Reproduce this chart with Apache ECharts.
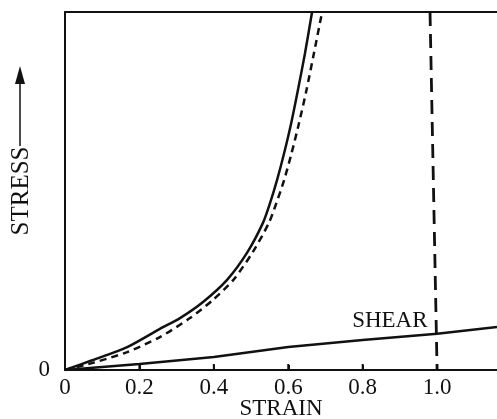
<!DOCTYPE html>
<html>
<head>
<meta charset="utf-8">
<script src="https://cdn.jsdelivr.net/npm/echarts@6/dist/echarts.min.js"></script>
<style>html,body{margin:0;padding:0;background:#fff}#c{width:497px;height:419px}</style>
</head>
<body>
<div id="c"></div>
<script>
// Solid curve
var strainSolid = [0, 0.075, 0.167, 0.255, 0.309, 0.371, 0.435, 0.489, 0.532, 0.551, 0.570, 0.589, 0.608, 0.626, 0.645, 0.664];
var stressSolid = [0, 2.8, 6.4, 11.5, 14.5, 19.0, 25.1, 32.7, 41.1, 46.6, 53.1, 60.6, 69.0, 78.2, 88.5, 100];
// Dashed curve
var strainDashed = [0, 0.075, 0.167, 0.255, 0.336, 0.398, 0.452, 0.505, 0.548, 0.568, 0.589, 0.609, 0.629, 0.649, 0.669, 0.691];
var stressDashed = [0, 2.0, 5.0, 9.2, 14.5, 19.6, 25.1, 33.0, 41.1, 46.6, 53.1, 60.6, 69.0, 78.2, 88.5, 100];
// Near-vertical dashed line
var strainVert = [0.981, 1.0];
var stressVert = [100, 0];
// Shear line
var strainShear = [0, 0.2, 0.4, 0.6, 0.8, 1.0, 1.161];
var stressShear = [0, 1.7, 3.6, 6.4, 8.4, 10.1, 12.0];
// Axis labels / ticks
var xTicks = [0, 0.2, 0.4, 0.6, 0.8, 1.0];
var shearLabelPos = [0.873, 13.7];

function zip(a, b) { return a.map(function (v, i) { return [v, b[i]]; }); }

var FONT = '"Liberation Serif", "DejaVu Serif", serif';
var INK = '#111';
var FS = 23;

var chart = echarts.init(document.getElementById('c'), null, { renderer: 'canvas' });
chart.setOption({
  animation: false,
  backgroundColor: '#fff',
  grid: { left: 65, right: 0, top: 12, bottom: 49, containLabel: false, outerBoundsMode: 'none' },
  xAxis: [{
    type: 'value', min: 0, max: 1.161, interval: 0.2,
    name: 'STRAIN', nameLocation: 'middle', nameGap: 27, nameMoveOverlap: false,
    nameTextStyle: { fontFamily: FONT, fontSize: FS, color: INK },
    axisLine: { show: true, lineStyle: { color: INK, width: 2 } },
    axisTick: { show: true, inside: true, length: 5, lineStyle: { color: INK, width: 2 } },
    axisLabel: { show: true, margin: 6, fontFamily: FONT, fontSize: FS, color: INK,
      showMaxLabel: false,
      formatter: function (v) {
        for (var i = 0; i < xTicks.length; i++) {
          if (Math.abs(v - xTicks[i]) < 1e-6) return xTicks[i] === 0 ? '0' : xTicks[i].toFixed(1);
        }
        return '';
      } },
    splitLine: { show: false }
  }, {
    type: 'value', position: 'top', min: 0, max: 1.161,
    axisLine: { show: true, lineStyle: { color: INK, width: 2 } },
    axisTick: { show: false }, axisLabel: { show: false }, splitLine: { show: false }
  }],
  yAxis: {
    type: 'value', min: 0, max: 100, interval: 100,
    name: 'STRESS', nameLocation: 'middle', nameGap: 31, nameRotate: 90, nameMoveOverlap: false,
    nameTextStyle: { fontFamily: FONT, fontSize: 25, color: INK },
    axisLine: { show: true, lineStyle: { color: INK, width: 2 } },
    axisTick: { show: false },
    axisLabel: { show: true, margin: 15, fontFamily: FONT, fontSize: FS, color: INK,
      formatter: function (v) { return v === 0 ? '0' : ''; } },
    splitLine: { show: false }
  },
  graphic: [
    { type: 'line', shape: { x1: 20, y1: 146, x2: 20, y2: 80 }, style: { stroke: INK, lineWidth: 1.5 } },
    { type: 'polygon', shape: { points: [[20, 66], [15, 84], [25, 84]] }, style: { fill: INK } }
  ],
  series: [{
    type: 'line', data: zip(strainSolid, stressSolid), showSymbol: false, smooth: 0.25,
    lineStyle: { color: INK, width: 2.5 }, clip: true
  }, {
    type: 'line', data: zip(strainDashed, stressDashed), showSymbol: false, smooth: 0.25,
    lineStyle: { color: INK, width: 2.5, type: [7, 5] }, clip: true
  }, {
    type: 'line', data: zip(strainVert, stressVert), showSymbol: false,
    lineStyle: { color: INK, width: 2.8, type: [14, 8] }
  }, {
    type: 'line', data: zip(strainShear, stressShear), showSymbol: false,
    lineStyle: { color: INK, width: 2.5 },
    markPoint: {
      symbol: 'circle', symbolSize: 0,
      data: [{ coord: shearLabelPos }],
      label: { show: true, position: 'inside', formatter: 'SHEAR', fontFamily: FONT, fontSize: FS, color: INK }
    }
  }, {
    // inside tick marks on the strain axis
    type: 'scatter', data: xTicks.slice(1).map(function (v) { return [v, 0]; }),
    symbol: 'rect', symbolSize: [2, 6], symbolOffset: [0, -3], clip: false,
    itemStyle: { color: INK, opacity: 1 }, silent: true, z: 5
  }]
});
</script>
</body>
</html>
